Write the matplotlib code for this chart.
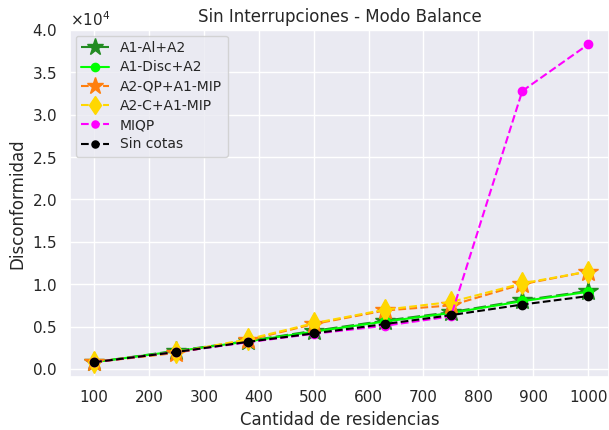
import matplotlib
matplotlib.use("Agg")
import matplotlib.pyplot as plt
import seaborn as sns
import numpy as np

sns.set_theme(style="darkgrid")

x = [100, 250, 380, 500, 630, 750, 880, 1000]
a1_al_a2 = [800, 2150, 3300, 4500, 5700, 6700, 8100, 9200]
a1_disc_a2 = [800, 2100, 3250, 4400, 5600, 6600, 8000, 9100]
a2_qp_a1_mip = [800, 1900, 3400, 5300, 6900, 7500, 10000, 11500]
a2_c_a1_mip = [850, 1950, 3500, 5400, 7000, 7900, 10100, 11500]
miqp = [800, 2000, 3150, 4150, 5100, 6200, 32800, 38300]
sin_cotas = [800, 2000, 3200, 4200, 5300, 6350, 7600, 8600]

fig = plt.figure(figsize=(6.09, 4.30), dpi=100)
ax = fig.add_axes([70/609, 53/430, 539/609, 347/430])
ax.plot(x, a1_al_a2, color="forestgreen", linestyle=(0, (6, 2)), marker="*", markersize=15, label="A1-Al+A2")
ax.plot(x, a1_disc_a2, color="lime", linestyle="-", marker="o", markersize=7, label="A1-Disc+A2")
ax.plot(x, a2_qp_a1_mip, color="#ff7f0e", linestyle="--", marker="*", markersize=15, label="A2-QP+A1-MIP")
ax.plot(x, a2_c_a1_mip, color="gold", linestyle="--", marker="d", markersize=11, label="A2-C+A1-MIP")
ax.plot(x, miqp, color="magenta", linestyle="--", marker="o", markersize=6, label="MIQP")
ax.plot(x, sin_cotas, color="black", linestyle="--", marker="o", markersize=6, label="Sin cotas")

ax.set_title("Sin Interrupciones - Modo Balance", fontsize=12)
ax.set_xlabel("Cantidad de residencias")
ax.set_ylabel("Disconformidad")
ax.set_xticks([100, 200, 300, 400, 500, 600, 700, 800, 900, 1000])
ax.set_xlim(56, 1038)
ax.set_ylim(-950, 40000)
ax.set_yticks(np.arange(0, 40001, 5000))
ax.ticklabel_format(axis="y", style="sci", scilimits=(4, 4), useMathText=True)
ax.legend(loc="upper left", fontsize=10, markerscale=0.85, borderaxespad=0.4,
          labelspacing=0.38)
fig.savefig("out.png", dpi=100)
